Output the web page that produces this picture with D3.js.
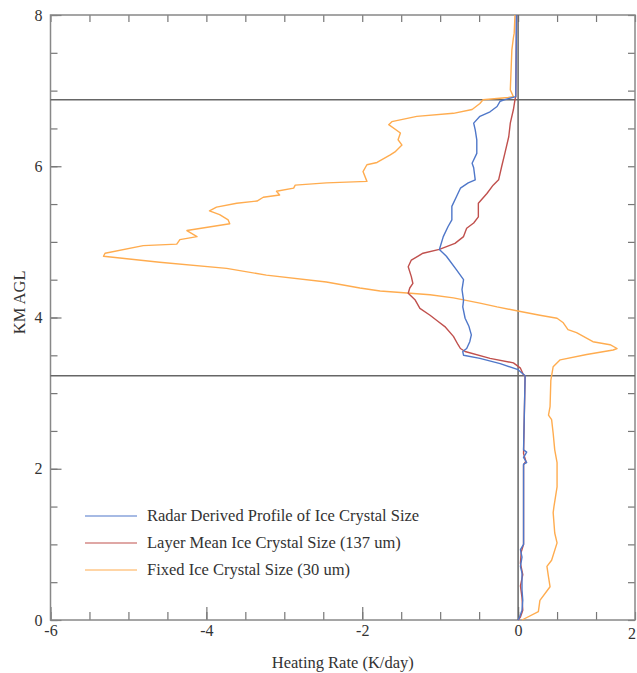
<!DOCTYPE html>
<html>
<head>
<meta charset="utf-8">
<script src="https://cdn.jsdelivr.net/npm/d3@7"></script>
<style>
  body { margin: 0; background: #fff; }
  svg text { font-family: "Liberation Serif", "DejaVu Serif", serif; fill: #333; }
</style>
</head>
<body>
<div id="chart"></div>
<script>
// heights (km AGL) and heating rates (K/day)
const radarHeight = [0.00, 0.04, 0.13, 0.26, 0.40, 0.62, 0.71, 0.83, 0.93, 1.00, 2.06, 2.08, 2.15, 2.22, 2.25, 3.23,
    3.31, 3.39, 3.46, 3.50, 3.55, 3.59, 3.68, 3.77, 3.88, 3.99, 4.14, 4.23, 4.37, 4.50, 4.63, 4.81, 4.90,
    5.07, 5.20, 5.29, 5.47, 5.60, 5.71, 5.78, 5.82, 5.98, 6.04, 6.17, 6.35, 6.48, 6.57, 6.66, 6.72, 6.79,
    6.86, 6.88, 6.92, 8.00];
const radarRate = [0.00, 0.02, 0.05, 0.06, 0.05, 0.05, 0.03, 0.05, 0.03, 0.07, 0.07, 0.11, 0.07, 0.11, 0.07, 0.09,
    0.00, -0.23, -0.49, -0.70, -0.71, -0.66, -0.62, -0.60, -0.63, -0.68, -0.71, -0.70, -0.72, -0.70, -0.79, -0.92, -1.01,
    -0.96, -0.90, -0.85, -0.85, -0.79, -0.74, -0.64, -0.55, -0.57, -0.59, -0.53, -0.53, -0.55, -0.57, -0.49, -0.36, -0.27,
    -0.23, -0.17, -0.03, -0.02];

const layerHeight = [0.00, 0.04, 0.13, 0.30, 0.45, 0.60, 0.75, 0.90, 1.00, 2.05, 2.10, 2.20, 3.23,
    3.24, 3.33, 3.40, 3.46, 3.55, 3.59, 3.64, 3.75, 3.88, 3.95, 4.03, 4.12, 4.23, 4.32, 4.39, 4.45, 4.54,
    4.67, 4.76, 4.85, 4.90, 4.98, 5.07, 5.18, 5.25, 5.33, 5.51, 5.64, 5.75, 5.82, 6.00, 6.17, 6.39, 6.57,
    6.75, 6.88, 6.92, 8.00];
const layerRate = [0.00, 0.03, 0.06, 0.05, 0.03, 0.06, 0.03, 0.04, 0.07, 0.07, 0.10, 0.07, 0.09,
    0.07, 0.03, -0.06, -0.36, -0.68, -0.74, -0.77, -0.83, -0.94, -1.03, -1.13, -1.26, -1.32, -1.41, -1.39, -1.35, -1.37,
    -1.41, -1.37, -1.22, -1.01, -0.81, -0.70, -0.66, -0.57, -0.51, -0.51, -0.40, -0.32, -0.25, -0.21, -0.17, -0.12, -0.10,
    -0.06, -0.04, -0.03, -0.02];

const fixedHeight = [0.00, 0.11, 0.26, 0.44, 0.57, 0.71, 0.79, 1.02, 1.15, 1.42, 1.50, 1.76, 2.08, 2.25, 2.47, 2.65,
    2.71, 2.82, 3.17, 3.35, 3.44, 3.51, 3.57, 3.59, 3.64, 3.68, 3.80, 3.84, 3.93, 3.99, 4.03, 4.08, 4.14,
    4.19, 4.26, 4.30, 4.33, 4.35, 4.39, 4.47, 4.56, 4.65, 4.73, 4.81, 4.85, 4.95, 4.97, 5.03, 5.07, 5.15,
    5.24, 5.29, 5.36, 5.41, 5.46, 5.51, 5.54, 5.59, 5.62, 5.67, 5.71, 5.75, 5.78, 5.80, 5.93, 6.02, 6.05,
    6.15, 6.19, 6.28, 6.35, 6.44, 6.55, 6.59, 6.66, 6.70, 6.75, 6.83, 6.88, 6.91, 6.92, 7.01, 7.54, 7.70,
    7.76, 8.00];
const fixedRate = [0.05, 0.26, 0.28, 0.41, 0.39, 0.37, 0.43, 0.50, 0.47, 0.45, 0.46, 0.50, 0.50, 0.47, 0.45, 0.43,
    0.39, 0.41, 0.42, 0.45, 0.54, 0.88, 1.22, 1.27, 1.18, 0.96, 0.75, 0.64, 0.58, 0.50, 0.28, 0.03, -0.27,
    -0.49, -0.83, -1.13, -1.51, -1.77, -2.03, -2.46, -3.23, -3.74, -4.60, -5.32, -5.30, -4.81, -4.38, -4.34, -4.12, -4.25,
    -3.70, -3.72, -3.83, -3.96, -3.87, -3.61, -3.35, -3.27, -3.06, -3.10, -2.88, -2.86, -2.46, -1.94, -1.99, -1.94, -1.81,
    -1.64, -1.58, -1.49, -1.54, -1.51, -1.66, -1.62, -1.30, -0.83, -0.59, -0.49, -0.45, -0.13, -0.06, -0.10, -0.08, -0.06,
    -0.05, -0.04];

const seriesNames = ["Radar Derived Profile of Ice Crystal Size", "Layer Mean Ice Crystal Size (137 um)", "Fixed Ice Crystal Size (30 um)"];
const seriesColors = ["#4f77c9", "#c0504d", "#ffac4f"];
const layerBounds = [6.88, 3.23];
const xMajorTicks = [-6, -4, -2, 0];
const yMajorTicks = [0, 2, 4, 6, 8];

const width = 637, height = 673;
const margin = { top: 15, right: 2, bottom: 53, left: 50.5 };

const svg = d3.select("#chart").append("svg")
    .attr("width", width)
    .attr("height", height);

// x runs to 1.5 at the right edge of the frame (figure is cropped there)
const x = d3.scaleLinear().domain([-6, 1.5]).range([margin.left, width - margin.right]);
const y = d3.scaleLinear().domain([0, 8]).range([height - margin.bottom, margin.top]);

const minorX = d3.range(-6, 1.51, 0.5);
const minorY = d3.range(0, 8.01, 0.5);

function styleAxis(g) {
    g.select(".domain").remove();
    g.selectAll("line").attr("stroke", "#777").attr("stroke-width", 1.2);
    g.selectAll("text").style("font-size", "16px").attr("fill", "#333");
}

// minor ticks on all four sides, pointing inward
svg.append("g").attr("transform", `translate(0,${y(0)})`)
    .call(d3.axisBottom(x).tickValues(minorX).tickSize(-8).tickFormat(""))
    .call(styleAxis);
svg.append("g").attr("transform", `translate(0,${y(8)})`)
    .call(d3.axisTop(x).tickValues(minorX).tickSize(-7).tickFormat(""))
    .call(styleAxis);
svg.append("g").attr("transform", `translate(${x(-6)},0)`)
    .call(d3.axisLeft(y).tickValues(minorY).tickSize(-7).tickFormat(""))
    .call(styleAxis);
svg.append("g").attr("transform", `translate(${x(1.5)},0)`)
    .call(d3.axisRight(y).tickValues(minorY).tickSize(-7).tickFormat(""))
    .call(styleAxis);

// major ticks with labels (plain hyphen minus, as in the original)
svg.append("g").attr("transform", `translate(0,${y(0)})`)
    .call(d3.axisBottom(x).tickValues(xMajorTicks).tickSize(-13).tickPadding(5).tickFormat(d => String(d)))
    .call(styleAxis);
svg.append("g").attr("transform", `translate(${x(-6)},0)`)
    .call(d3.axisLeft(y).tickValues(yMajorTicks).tickSize(-11).tickPadding(8).tickFormat(d => String(d)))
    .call(styleAxis);

// the "2" label sits at the right edge of the cropped figure
svg.append("text")
    .attr("x", x(1.5) - 7)
    .attr("y", y(0) + 19)
    .style("font-size", "16px")
    .text("2");

// frame
svg.append("rect")
    .attr("x", x(-6))
    .attr("y", y(8))
    .attr("width", x(1.5) - x(-6))
    .attr("height", y(0) - y(8))
    .attr("fill", "none")
    .attr("stroke", "#888")
    .attr("stroke-width", 1.5);

// cloud layer boundaries and zero line
svg.append("g").selectAll("line")
    .data(layerBounds)
    .enter()
    .append("line")
    .attr("x1", x(-6))
    .attr("x2", x(1.5))
    .attr("y1", d => y(d))
    .attr("y2", d => y(d))
    .attr("stroke", "#666")
    .attr("stroke-width", 1.5);

svg.append("line")
    .attr("x1", x(0))
    .attr("x2", x(0))
    .attr("y1", y(0))
    .attr("y2", y(8))
    .attr("stroke", "#666")
    .attr("stroke-width", 1.5);

// profiles
const profiles = [
    { h: fixedHeight, r: fixedRate, color: seriesColors[2] },
    { h: layerHeight, r: layerRate, color: seriesColors[1] },
    { h: radarHeight, r: radarRate, color: seriesColors[0] }
];

const line = d3.line()
    .x(d => x(d[1]))
    .y(d => y(d[0]));

svg.append("g").selectAll("path")
    .data(profiles)
    .enter()
    .append("path")
    .attr("d", p => line(p.h.map((h, i) => [h, p.r[i]])))
    .attr("fill", "none")
    .attr("stroke", p => p.color)
    .attr("stroke-width", 1.4)
    .attr("stroke-linejoin", "round");

// legend
const legend = svg.append("g").attr("transform", "translate(85,516)");
const entry = legend.selectAll("g")
    .data(seriesNames)
    .enter()
    .append("g")
    .attr("transform", (d, i) => `translate(0,${i * 27})`);
entry.append("line")
    .attr("x1", 0).attr("x2", 52)
    .attr("stroke", (d, i) => seriesColors[i])
    .attr("stroke-width", 1.2);
entry.append("text")
    .attr("x", 62)
    .attr("y", 5)
    .style("font-size", "16.5px")
    .text(d => d);

// axis titles
svg.append("text")
    .attr("x", (x(-6) + x(1.5)) / 2)
    .attr("y", 668)
    .attr("text-anchor", "middle")
    .style("font-size", "16.5px")
    .text("Heating Rate (K/day)");

svg.append("text")
    .attr("transform", `translate(25,${y(4.2)}) rotate(-90)`)
    .attr("text-anchor", "middle")
    .style("font-size", "16.5px")
    .text("KM AGL");
</script>
</body>
</html>
